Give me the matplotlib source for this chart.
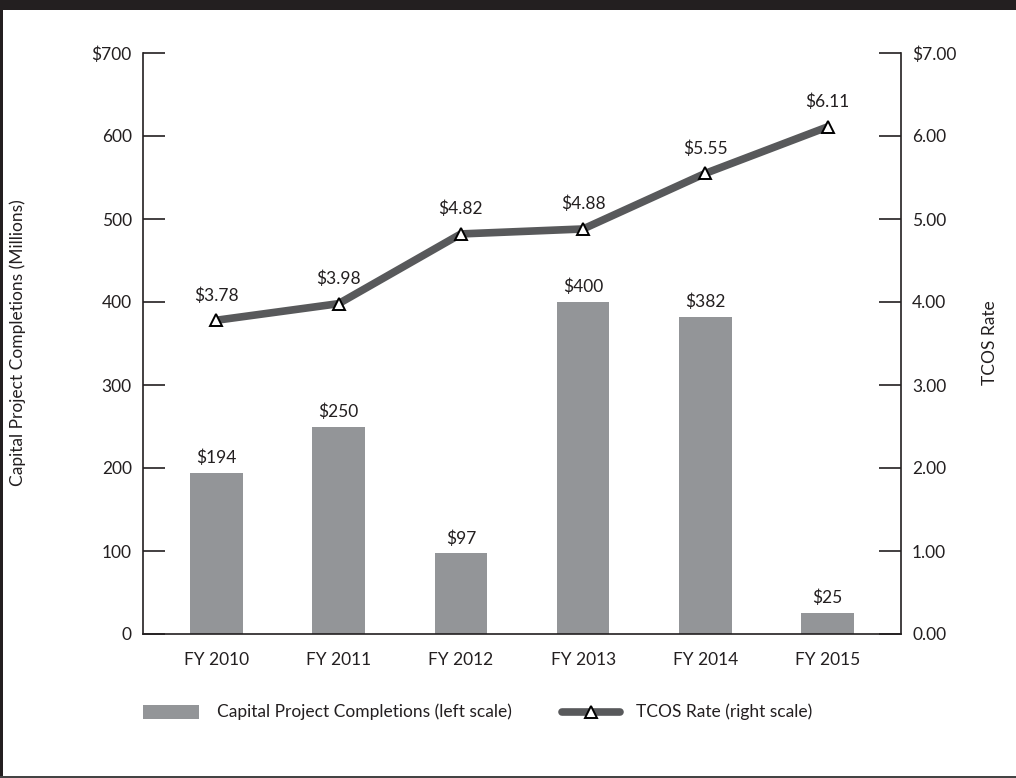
import matplotlib
matplotlib.use("Agg")
import matplotlib.pyplot as plt
from matplotlib.patches import Rectangle
from matplotlib.lines import Line2D

plt.rcParams['font.family'] = ['Lato', 'DejaVu Sans']

categories = ["FY 2010", "FY 2011", "FY 2012", "FY 2013", "FY 2014", "FY 2015"]
completions = [194, 250, 97, 400, 382, 25]          # millions of dollars
tcos_rate = [3.78, 3.98, 4.82, 4.88, 5.55, 6.11]   # dollars

left_ticks = [0, 100, 200, 300, 400, 500, 600, 700]
left_tick_labels = ["0", "100", "200", "300", "400", "500", "600", "$700"]
right_ticks = [0, 1, 2, 3, 4, 5, 6, 7]
right_tick_labels = ["0.00", "1.00", "2.00", "3.00", "4.00", "5.00", "6.00", "$7.00"]

bar_color = "#939598"
line_color = "#58595b"
text_color = "#231f20"
frame_color = "#231f20"
FS = 12.5

W, H = 1016, 778
fig = plt.figure(figsize=(W / 100, H / 100), dpi=100)
fig.patch.set_facecolor("white")

# dark frame: top band, left edge, thin bottom rule
fig.add_artist(Rectangle((0, 1 - 10 / H), 1, 10 / H, transform=fig.transFigure,
                         facecolor=frame_color, edgecolor="none"))
fig.add_artist(Rectangle((0, 0), 3 / W, 1, transform=fig.transFigure,
                         facecolor=frame_color, edgecolor="none"))
fig.add_artist(Rectangle((0, 0), 1, 2 / H, transform=fig.transFigure,
                         facecolor="#444444", edgecolor="none"))

ax_left, ax_right = 143 / W, 901 / W
ax_top, ax_bottom = 1 - 53 / H, 1 - 634 / H
ax = fig.add_axes([ax_left, ax_bottom, ax_right - ax_left, ax_top - ax_bottom])
ax2 = ax.twinx()

x = list(range(len(categories)))
ax.bar(x, completions, width=0.43, color=bar_color, zorder=2)
for xi, v in zip(x, completions):
    ax.annotate(f"${v}", (xi, v), xytext=(0, 5), textcoords="offset points",
                ha="center", va="bottom", fontsize=FS, color=text_color)

ax.set_xlim(-0.6, 5.6)
ax.set_ylim(0, 700)
ax.set_yticks(left_ticks)
ax.set_yticklabels(left_tick_labels)
ax.set_xticks(x)
ax.set_xticklabels(categories)

ax2.plot(x, tcos_rate, color=line_color, linewidth=5.5, solid_capstyle="butt",
         marker="^", markersize=9, markerfacecolor="white",
         markeredgecolor="black", markeredgewidth=1.4, zorder=3)
for xi, v in zip(x, tcos_rate):
    ax2.annotate(f"${v:.2f}", (xi, v), xytext=(0, 12), textcoords="offset points",
                 ha="center", va="bottom", fontsize=FS, color=text_color)
ax2.set_ylim(0, 7)
ax2.set_yticks(right_ticks)
ax2.set_yticklabels(right_tick_labels)

for a in (ax, ax2):
    for s in a.spines.values():
        s.set_visible(False)
ax.spines["left"].set_visible(True)
ax.spines["bottom"].set_visible(True)
ax2.spines["right"].set_visible(True)
for s in (ax.spines["left"], ax.spines["bottom"], ax2.spines["right"]):
    s.set_color(text_color)
    s.set_linewidth(1.2)

ax.tick_params(axis="y", direction="in", length=16, width=1.2, color=text_color,
               labelsize=FS, labelcolor=text_color, pad=8)
ax.tick_params(axis="x", length=0, labelsize=FS, labelcolor=text_color, pad=13)
ax2.tick_params(axis="y", direction="in", length=16, width=1.2, color=text_color,
                labelsize=FS, labelcolor=text_color, pad=8)

# axis titles
fig.text(18 / W, 1 - 343 / H, "Capital Project Completions (Millions)",
         rotation=90, fontsize=FS, color=text_color, ha="center", va="center")
fig.text(990 / W, 1 - 343 / H, "TCOS Rate",
         rotation=90, fontsize=FS, color=text_color, ha="center", va="center")

# legend row beneath the plot
leg_y = 1 - 712 / H
fig.add_artist(Rectangle((143 / W, leg_y - 7 / H), 56 / W, 14 / H,
                         transform=fig.transFigure, facecolor=bar_color,
                         edgecolor="none"))
fig.text(217 / W, leg_y, "Capital Project Completions (left scale)",
         fontsize=FS, color=text_color, va="center", ha="left")
fig.add_artist(Line2D([562 / W, 620 / W], [leg_y, leg_y], transform=fig.transFigure,
                      color=line_color, linewidth=5.5, solid_capstyle="round"))
fig.add_artist(Line2D([591 / W], [leg_y], transform=fig.transFigure, marker="^",
                      markersize=9, markerfacecolor="white", markeredgecolor="black",
                      markeredgewidth=1.4, linestyle="none"))
fig.text(636 / W, leg_y, "TCOS Rate (right scale)",
         fontsize=FS, color=text_color, va="center", ha="left")

fig.savefig("out.png", dpi=100)
